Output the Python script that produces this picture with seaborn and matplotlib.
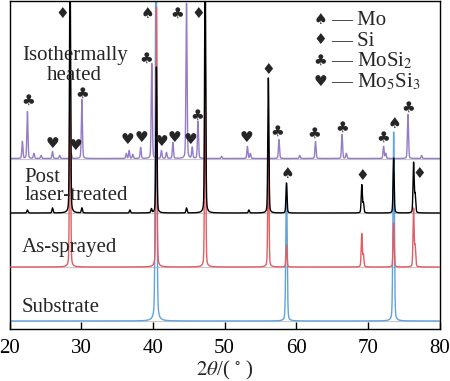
import numpy as np
import pandas as pd
import matplotlib
matplotlib.use("Agg")
import matplotlib.pyplot as plt
import seaborn as sns

# ---------------- data ----------------
x_ticks = [20, 30, 40, 50, 60, 70, 80]
series_names = ["Substrate", "As-sprayed", "Post laser-treated", "Isothermally heated"]

substrate_pos = [40.45, 58.65, 73.6]
substrate_int = [420, 135, 189]

sprayed_pos = [28.45, 40.5, 47.3, 56.12, 58.65, 69.15, 69.38, 73.6, 76.38, 76.6]
sprayed_int = [220, 260, 220, 130, 22, 33, 12, 44, 58, 20]

post_pos = [22.5, 26.0, 28.45, 30.1, 36.8, 39.8, 40.5, 44.7, 47.3, 53.4,
            56.12, 58.65, 69.15, 69.38, 73.6, 76.38, 76.6]
post_int = [3, 5, 260, 5, 3, 4, 146, 5, 260, 3,
            135, 30, 28, 10, 55, 50, 18]

iso_pos = [21.8, 22.5, 23.4, 24.4, 26.0, 27.0, 28.6, 30.1, 36.3, 36.7, 37.2,
           38.3, 39.85, 41.2, 41.9, 42.8, 44.7, 45.5, 46.3, 49.6, 53.2, 53.6,
           57.6, 60.5, 62.7, 66.4, 67.0, 72.2, 72.5, 75.6, 77.5]
iso_int = [17, 47, 5, 3, 7, 3, 5, 59, 5, 8, 4,
           11, 95, 8, 6, 16, 155, 11, 37, 2, 12, 5,
           19, 3, 17, 24, 5, 12, 5, 44, 3]

phase_symbols = ["\u2660", "\u2666", "\u2663", "\u2665"]
phase_names = ["Mo", "Si", "MoSi$_2$", "Mo$_5$Si$_3$"]

# peak marks: (series index the peak belongs to, phase index, 2theta)
markers = [
    (3, 2, 22.5), (3, 3, 26.0), (2, 1, 28.45), (3, 3, 28.6), (3, 2, 30.1),
    (3, 3, 36.7), (3, 3, 38.3), (3, 2, 39.85), (0, 0, 40.45), (3, 3, 41.2),
    (3, 3, 42.8), (3, 2, 44.7), (3, 3, 45.5), (3, 2, 46.3), (2, 1, 47.3),
    (3, 3, 53.2), (3, 2, 57.6), (3, 2, 62.7), (3, 2, 66.4), (3, 2, 72.2),
    (0, 0, 73.6), (3, 2, 75.6),
    (2, 1, 56.12), (2, 0, 58.65), (2, 1, 69.15), (2, 1, 76.38),
]
# layout offsets for the marks (horizontal shift in degrees, gap above peak in px)
marker_offsets = [
    (0.1, 11.5), (0.05, 7.5), (-1.1, 0), (0.55, 8.5), (0.05, 6.0),
    (-0.2, 11.5), (0.05, 10.5), (-0.8, 5.5), (-1.25, 0), (0.0, 9.5),
    (0.2, 5.5), (-1.3, 0), (-0.2, 7.5), (-0.15, 6.5), (-1.0, 0),
    (-0.2, 9.5), (-0.27, 8.5), (-0.2, 8.5), (0.0, 7.5), (-0.1, 9.5),
    (0.05, 9.0), (0.0, 7.5),
    (-0.05, 8.0), (0.07, 10.0), (0.03, 10.0), (0.75, -10.0),
]

# ---------------- style ----------------
sns.set_style("ticks")
plt.rcParams["font.family"] = ["Liberation Serif", "DejaVu Sans"]
plt.rcParams["mathtext.fontset"] = "stix"

colors = ["#5fa3e0", "#e35d62", "#000000", "#957cc6"]
baselines = [8, 62, 116, 170.5]
widths = [0.22, 0.18, 0.18, 0.18]
YTOP = 328

fig = plt.figure(figsize=(4.5, 3.81), dpi=100)
ax = fig.add_axes([9.5 / 450, (381 - 329) / 381, 430 / 450, 328 / 381])

grid = np.linspace(20, 80, 12001)


def profile(pos, inten, fwhm):
    y = np.zeros_like(grid)
    sig = fwhm / 2.355
    gam = fwhm / 2
    for p, h in zip(pos, inten):
        g = np.exp(-0.5 * ((grid - p) / sig) ** 2)
        l = 1 / (1 + ((grid - p) / gam) ** 2)
        y += h * (0.75 * g + 0.25 * l)
    return y


all_pos = [substrate_pos, sprayed_pos, post_pos, iso_pos]
all_int = [substrate_int, sprayed_int, post_int, iso_int]

frames = []
for i, name in enumerate(series_names):
    frames.append(pd.DataFrame({"two_theta": grid,
                                "intensity": profile(all_pos[i], all_int[i], widths[i]) + baselines[i],
                                "series": name}))
df = pd.concat(frames, ignore_index=True)

zorders = [2, 3, 4, 1]
for i, name in enumerate(series_names):
    ax.axhline(baselines[i], color="#c8c8c8", lw=0.8, zorder=0.5)
    sns.lineplot(data=df[df["series"] == name], x="two_theta", y="intensity",
                 color=colors[i], lw=1.0, ax=ax, zorder=zorders[i], legend=False)

ax.set_xlim(20, 80)
ax.set_ylim(0, YTOP)
ax.set_xticks(x_ticks)
ax.set_yticks([])
ax.tick_params(axis="x", direction="in", length=5, width=1, labelsize=15, pad=7,
               colors="black")
for s in ax.spines.values():
    s.set_visible(True)
    s.set_linewidth(1.0)
    s.set_color("black")
ax.set_xlabel(r"$\mathit{2\theta}$/( $^{\circ}$ )", fontsize=15, labelpad=1)
ax.set_ylabel("")


def px(xp, yp):
    return 20 + (xp - 9.5) / (430 / 60), 329 - yp


# series labels
tfs = 15
for txt, xp, yp, ha in [("Isothermally", 22, 60, "left"), ("heated", 74, 80, "center"),
                        ("Post", 24, 182, "left"), ("laser-treated", 25, 200, "left"),
                        ("As-sprayed", 22, 252, "left"), ("Substrate", 22, 312, "left")]:
    x, y = px(xp, yp)
    ax.text(x, y, txt, fontsize=tfs, ha=ha, va="baseline", zorder=6)

# peak marks, placed above the peak top taken from the data
msize = 11
for (si, ph, tt), (dx, gap) in zip(markers, marker_offsets):
    pos = np.array(all_pos[si])
    k = int(np.argmin(np.abs(pos - tt)))
    top = baselines[si] + all_int[si][k]
    if top > YTOP - 20:
        y = YTOP - 12
    else:
        y = top + gap
    ax.text(tt + dx, y, phase_symbols[ph], fontsize=msize, ha="center", va="center",
            family=["DejaVu Sans"], zorder=7)

# phase key
for j in range(4):
    yb = [25, 46, 66, 87][j]
    x, y = px(320, yb - 6)
    ax.text(x, y, phase_symbols[j], fontsize=msize, ha="center", va="center",
            family=["DejaVu Sans"], zorder=7)
    x2, y2 = px(331, yb)
    ax.text(x2, y2, "\u2014 " + phase_names[j], fontsize=tfs, ha="left", va="baseline",
            zorder=7)

fig.savefig("out.png", dpi=100)
